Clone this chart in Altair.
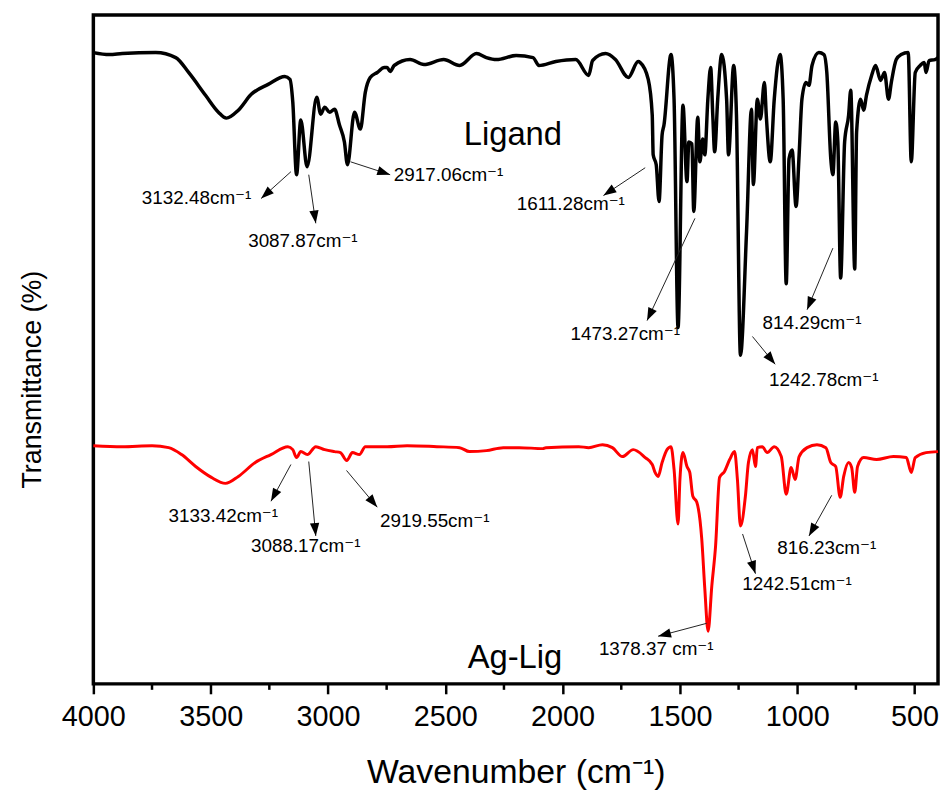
import math
import altair as alt
import pandas as pd

# ---------------- data ----------------
lig_wn = [4000, 3932, 3877, 3734, 3649, 3594, 3522, 3467, 3433, 3382,
          3327, 3255, 3184, 3162, 3150, 3134, 3116, 3089, 3048, 3031,
          3014, 2993, 2972, 2951, 2930, 2917, 2887, 2862, 2841, 2820,
          2790, 2760, 2748, 2735, 2718, 2650, 2591, 2507, 2439, 2367,
          2325, 2282, 2198, 2126, 2101, 2029, 1944, 1889, 1872, 1817,
          1775, 1720, 1678, 1669, 1635, 1618, 1614, 1601, 1589, 1576,
          1568, 1538, 1525, 1508, 1487, 1470, 1462, 1449, 1441, 1424,
          1415, 1403, 1394, 1381, 1369, 1360, 1352, 1339, 1322, 1301,
          1293, 1271, 1259, 1242, 1216, 1195, 1187, 1170, 1157, 1140,
          1132, 1115, 1098, 1073, 1060, 1047, 1035, 1022, 1005, 992,
          980, 963, 950, 937, 908, 886, 874, 857, 848, 836,
          827, 815, 798, 781, 772, 755, 747, 730, 717, 705,
          683, 666, 645, 628, 611, 599, 578, 557, 527, 514,
          497, 476, 459, 451, 438, 413, 400]
lig_t = [636, 634, 635, 636, 631, 616, 593, 576, 570, 578,
         594, 604, 612, 609, 586, 513, 568, 521, 591, 574,
         581, 576, 579, 563, 546, 523, 576, 559, 596, 611,
         616, 621, 621, 617, 623, 629, 624, 629, 623, 635,
         631, 629, 633, 631, 623, 627, 629, 613, 628, 635,
         629, 611, 627, 626, 609, 573, 533, 523, 486, 553,
         563, 634, 589, 359, 583, 506, 546, 544, 476, 571,
         526, 549, 533, 589, 621, 573, 536, 589, 634, 589,
         533, 623, 573, 331, 456, 579, 503, 589, 569, 606,
         573, 526, 589, 634, 589, 403, 529, 538, 481, 533,
         589, 606, 603, 623, 636, 634, 616, 529, 513, 566,
         546, 409, 546, 573, 598, 418, 556, 589, 578, 593,
         613, 623, 608, 616, 589, 606, 629, 634, 636, 526,
         616, 623, 626, 616, 628, 629, 631]

ag_wn = [4000, 3877, 3750, 3679, 3624, 3564, 3497, 3437, 3382, 3310,
         3243, 3171, 3150, 3134, 3116, 3088, 3052, 3014, 2972, 2947,
         2920, 2896, 2866, 2841, 2748, 2663, 2536, 2439, 2397, 2325,
         2253, 2185, 2084, 2071, 1931, 1889, 1830, 1788, 1745, 1699,
         1648, 1618, 1606, 1593, 1576, 1555, 1538, 1525, 1508, 1500,
         1487, 1470, 1458, 1445, 1428, 1407, 1394, 1380, 1364, 1348,
         1331, 1310, 1288, 1267, 1255, 1242, 1221, 1208, 1191, 1178,
         1170, 1149, 1128, 1098, 1068, 1047, 1026, 1009, 992, 958,
         916, 878, 857, 836, 817, 802, 781, 768, 755, 743,
         717, 662, 590, 535, 514, 497, 451, 400]
ag_t = [240, 239, 240, 238, 231, 219, 208, 202, 209, 223,
        231, 239, 236, 228, 234, 231, 239, 236, 234, 233,
        225, 233, 231, 239, 239, 240, 239, 238, 234, 235,
        238, 238, 237, 238, 239, 238, 241, 238, 229, 236,
        228, 221, 213, 209, 223, 236, 239, 216, 161, 206,
        233, 219, 213, 189, 183, 146, 96, 53, 99, 139,
        208, 214, 226, 234, 206, 159, 189, 223, 236, 219,
        238, 239, 233, 239, 229, 191, 218, 206, 229, 238,
        241, 238, 223, 219, 188, 209, 223, 218, 193, 219,
        228, 226, 229, 228, 213, 228, 233, 234]

series_names = ["Ligand", "Ag-Lig"]
series_wn = [2212, 2203]
series_t = [553, 26]

ann_text = ["3132.48cm⁻¹", "3087.87cm⁻¹", "2917.06cm⁻¹", "1611.28cm⁻¹",
            "1473.27cm⁻¹", "1242.78cm⁻¹", "814.29cm⁻¹",
            "3133.42cm⁻¹", "3088.17cm⁻¹", "2919.55cm⁻¹", "1378.37 cm⁻¹",
            "1242.51cm⁻¹", "816.23cm⁻¹"]
ann_wn = [3560, 3107, 2486, 1965, 1733, 887, 937, 3446, 3095, 2545, 1601, 1001, 874]
ann_t = [489, 446, 513, 483, 352, 306, 364, 169, 139, 164, 35, 101, 137]
tail_wn = [3158, 3082, 2904, 1648, 1436, 1191, 848, 3158, 3082, 2921, 1386, 1233, 853]
tail_t = [516, 513, 526, 520, 469, 350, 439, 221, 224, 215, 61, 151, 190]
head_wn = [3285, 3052, 2735, 1826, 1640, 1094, 958, 3243, 3052, 2790, 1593, 1178, 950]
head_t = [489, 464, 513, 492, 366, 322, 377, 184, 149, 178, 48, 111, 149]

major_ticks = [4000, 3500, 3000, 2500, 2000, 1500, 1000, 500]
minor_ticks = [3750, 3250, 2750, 2250, 1750, 1250, 750]

# ---------------- layout ----------------
W, H = 851, 674
WN_MIN, WN_MAX = 400, 4000
T_MIN, T_MAX = 0, 674
NARROW = "Liberation Sans Narrow, Arial Narrow, Liberation Sans, Arial"
REG = "Liberation Sans, Arial, DejaVu Sans"

kx = W / (WN_MAX - WN_MIN)
ky = H / (T_MAX - T_MIN)
angles = []
for a, b, c, d in zip(tail_wn, tail_t, head_wn, head_t):
    dx = (a - c) * kx          # reversed axis
    dy = (b - d) * ky          # screen y grows downward
    angles.append(math.degrees(math.atan2(dx, -dy)) % 360)

df_lig = pd.DataFrame({"wn": lig_wn, "t": lig_t})
df_ag = pd.DataFrame({"wn": ag_wn, "t": ag_t})
df_names = pd.DataFrame({"wn": series_wn, "t": series_t, "label": series_names})
df_ann = pd.DataFrame({"wn": ann_wn, "t": ann_t, "label": ann_text})
df_arr = pd.DataFrame({"wn": tail_wn, "t": tail_t, "wn2": head_wn, "t2": head_t})
df_head = pd.DataFrame({"wn": head_wn, "t": head_t, "ang": angles})
df_minor = pd.DataFrame({"wn": minor_ticks})

x_scale = alt.Scale(domain=[WN_MIN, WN_MAX], reverse=True, nice=False, zero=False)
y_scale = alt.Scale(domain=[T_MIN, T_MAX], nice=False, zero=False)

x_axis = alt.Axis(title="Wavenumber (cm⁻¹)", values=major_ticks, format="d",
                  tickSize=10, tickWidth=2.5, tickColor="black",
                  labelFont=NARROW, labelFontSize=29, labelColor="black",
                  labelPadding=9, labelFlush=False,
                  titleFont=NARROW, titleFontSize=34, titleFontWeight="normal",
                  titleColor="black", titlePadding=24,
                  domain=False, grid=False)
y_axis = alt.Axis(title="Transmittance (%)", labels=False, ticks=False,
                  domain=False, grid=False,
                  titleFont=NARROW, titleFontSize=27, titleFontWeight="normal",
                  titleColor="black", titlePadding=47, titleY=367)

X = alt.X("wn:Q", scale=x_scale, axis=x_axis)
Y = alt.Y("t:Q", scale=y_scale, axis=y_axis)

lig = alt.Chart(df_lig).mark_line(color="black", strokeWidth=3.5,
                                  interpolate="monotone").encode(x=X, y=Y)
ag = alt.Chart(df_ag).mark_line(color="#ff0000", strokeWidth=3,
                                interpolate="monotone").encode(x=X, y=Y)

minor = alt.Chart(df_minor).mark_rule(color="black", strokeWidth=2.5).encode(
    x=X, y=alt.value(H), y2=alt.value(H + 6))

arrows = alt.Chart(df_arr).mark_rule(color="#222222", strokeWidth=1).encode(
    x=X, y=Y, x2="wn2:Q", y2="t2:Q")

heads = alt.Chart(df_head).mark_point(
    shape="M0,0L-0.36,1L0.36,1Z", filled=True, size=676, color="black",
    opacity=1, strokeWidth=0).encode(
    x=X, y=Y, angle=alt.Angle("ang:Q", scale=None))

ann = alt.Chart(df_ann).mark_text(font=REG, fontSize=19, color="black",
                                  align="center", baseline="middle").encode(
    x=X, y=Y, text="label:N")

names = alt.Chart(df_names).mark_text(font=REG, fontSize=33, color="black",
                                      align="center", baseline="middle").encode(
    x=X, y=Y, text="label:N")

chart = alt.layer(lig, ag, minor, arrows, heads, ann, names).properties(
    width=W, height=H,
    autosize=alt.AutoSizeParams(type="none"),
    padding={"left": 86, "top": 4, "right": 2, "bottom": 106},
).configure_view(stroke="black", strokeWidth=3.5)

chart.save("out.html", embed_options={"renderer": "svg", "actions": False})
